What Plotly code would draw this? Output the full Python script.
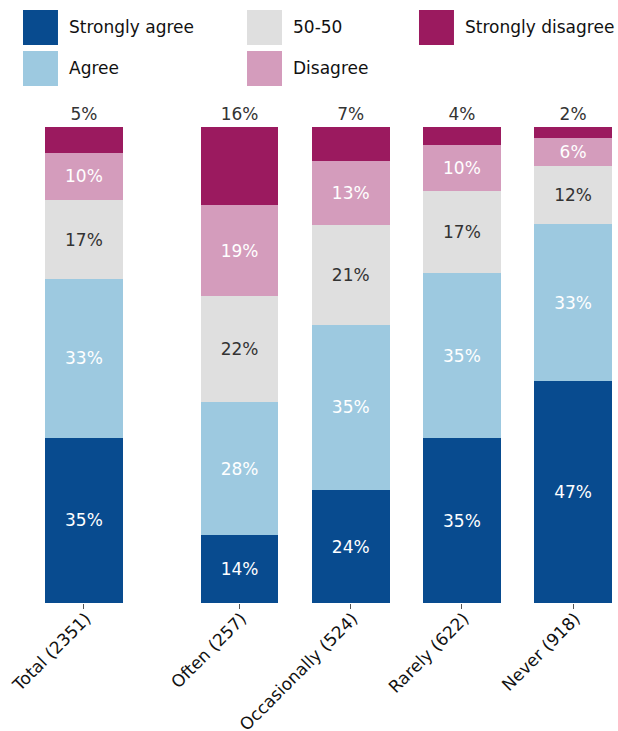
import plotly.graph_objects as go

categories = ["Total (2351)", "Often (257)", "Occasionally (524)", "Rarely (622)", "Never (918)"]
x_positions = [0, 1.4, 2.4, 3.4, 4.4]

series_names = ["Strongly agree", "Agree", "50-50", "Disagree", "Strongly disagree"]
strongly_agree = [34.7, 14.3, 23.7, 34.6, 46.6]
agree = [33.4, 27.9, 34.8, 34.8, 33.0]
fifty_fifty = [16.6, 22.3, 21.0, 17.2, 12.3]
disagree = [9.9, 19.1, 13.4, 9.7, 5.8]
strongly_disagree = [5.4, 16.4, 7.1, 3.7, 2.3]

series_values = [strongly_agree, agree, fifty_fifty, disagree, strongly_disagree]
colors = ["#084B8F", "#9DC9E0", "#DFDFDF", "#D49CBC", "#9B1A5F"]
text_colors = ["white", "white", "#333333", "white", "#333333"]

FONT = "DejaVu Sans"
fig = go.Figure()
for i, (name, vals) in enumerate(zip(series_names, series_values)):
    top = i == len(series_names) - 1
    fig.add_trace(go.Bar(
        x=x_positions, y=vals, name=name, width=0.7,
        marker=dict(color=colors[i], line=dict(width=0)),
        texttemplate="%{y:.0f}%",
        textposition="outside" if top else "inside",
        insidetextanchor="middle",
        textangle=0,
        textfont=dict(color=text_colors[i], size=17, family=FONT),
        cliponaxis=False,
        constraintext="none",
        showlegend=False,
    ))

# manual legend (large square swatches, 3 columns, column-major order)
legend_cols = [(-0.0388, 0.0229, 0.0388), (0.3563, 0.4180, 0.4339), (0.6596, 0.7213, 0.7372)]
legend_rows = [(1.1723, 1.2458, 1.2101), (1.0861, 1.1597, 1.1239)]
legend_order = [0, 2, 4, 1, 3]
slots = [(0, 0), (0, 1), (0, 2), (1, 0), (1, 1)]
for (r, c), idx in zip(slots, legend_order):
    x0, x1, xt = legend_cols[c]
    y0, y1, yt = legend_rows[r]
    fig.add_shape(type="rect", xref="paper", yref="paper", x0=x0, x1=x1, y0=y0, y1=y1,
                  fillcolor=colors[idx], line=dict(width=0), layer="above")
    fig.add_annotation(xref="paper", yref="paper", x=xt, y=yt, text=series_names[idx],
                       showarrow=False, xanchor="left", yanchor="middle",
                       font=dict(size=17, color="#111111", family=FONT))

fig.update_layout(
    barmode="stack",
    width=618, height=731,
    margin=dict(l=45, r=6, t=127, b=128, autoexpand=False),
    plot_bgcolor="white", paper_bgcolor="white",
    font=dict(family=FONT, color="#222222"),
    xaxis=dict(
        tickmode="array", tickvals=x_positions, ticktext=categories,
        range=[-0.35, 4.75], tickangle=-45, automargin=False,
        ticks="outside", ticklen=5, tickcolor="#555555", tickwidth=1,
        ticklabelstandoff=-7, ticklabelshift=2,
        tickfont=dict(size=17, color="#111111", family=FONT),
        showgrid=False, zeroline=False, showline=False,
    ),
    yaxis=dict(range=[0, 100.05], visible=False, showgrid=False, zeroline=False, automargin=False),
)

fig.write_html("out.html", config={"displayModeBar": False},
               post_script="document.body.style.margin='0';document.body.style.overflow='hidden';")
